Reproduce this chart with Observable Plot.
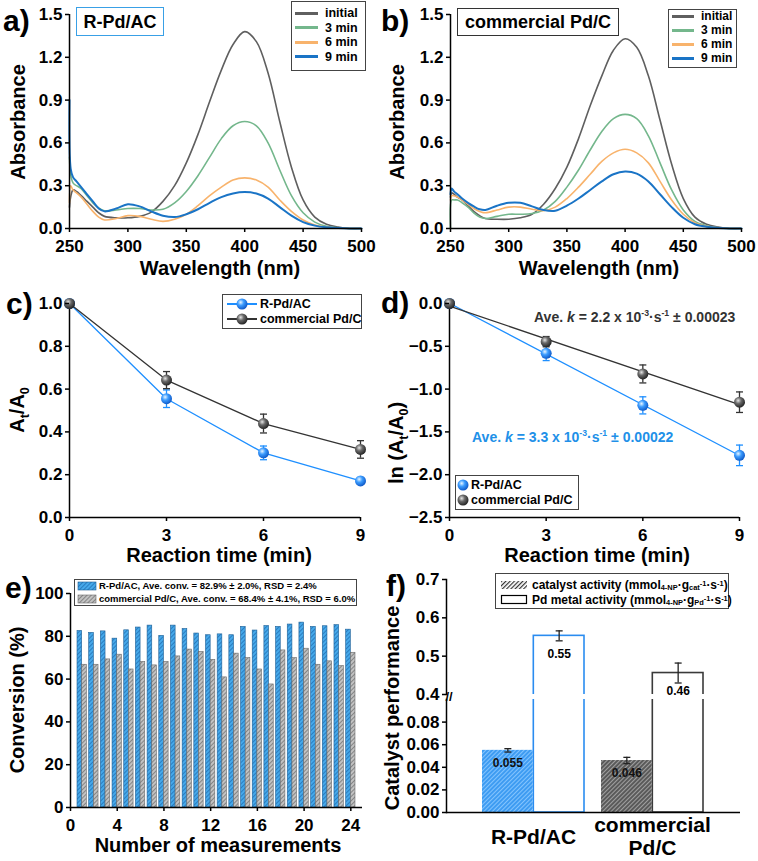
<!DOCTYPE html>
<html><head><meta charset="utf-8">
<script src="https://cdn.jsdelivr.net/npm/d3@7"></script>
<script src="https://cdn.jsdelivr.net/npm/@observablehq/plot@0.6"></script>
<style>
body{margin:0;background:#fff;}
#root{position:relative;width:758px;height:861px;overflow:hidden;font-family:"Liberation Sans",Arial,sans-serif;font-weight:bold;color:#000;background:#fff;}
.t{position:absolute;white-space:nowrap;line-height:1;}
.t sub,.t sup{font-size:0.62em;line-height:0;}
.t.sm sub{vertical-align:-0.15em;}
.t.sm sup{vertical-align:0.4em;}
.box{position:absolute;border:1px solid #333;background:#fff;box-sizing:border-box;}
</style></head><body>
<svg width="0" height="0" style="position:absolute">
<defs>
<pattern id="hbE" patternUnits="userSpaceOnUse" width="3" height="3" patternTransform="rotate(45)"><rect width="3" height="3" fill="#46a9ea"/><line x1="0.5" y1="0" x2="0.5" y2="3" stroke="#2a7cc0" stroke-width="1"/></pattern>
<pattern id="hgE" patternUnits="userSpaceOnUse" width="3" height="3" patternTransform="rotate(45)"><rect width="3" height="3" fill="#c2c2c2"/><line x1="0.5" y1="0" x2="0.5" y2="3" stroke="#858585" stroke-width="1"/></pattern>
<pattern id="hbF" patternUnits="userSpaceOnUse" width="3" height="3" patternTransform="rotate(45)"><rect width="3" height="3" fill="#3e9cf2"/><line x1="0.5" y1="0" x2="0.5" y2="3" stroke="#8cc8ff" stroke-width="0.9"/></pattern>
<pattern id="hgF" patternUnits="userSpaceOnUse" width="3" height="3" patternTransform="rotate(45)"><rect width="3" height="3" fill="#5a5a5a"/><line x1="0.5" y1="0" x2="0.5" y2="3" stroke="#a8a8a8" stroke-width="0.9"/></pattern>
<pattern id="hkF" patternUnits="userSpaceOnUse" width="3" height="3" patternTransform="rotate(45)"><rect width="3" height="3" fill="#fff"/><line x1="0.5" y1="0" x2="0.5" y2="3" stroke="#333" stroke-width="1.4"/></pattern>
<radialGradient id="ballB" cx="0.38" cy="0.35" r="0.7"><stop offset="0" stop-color="#e8f5ff"/><stop offset="0.4" stop-color="#3d9dff"/><stop offset="1" stop-color="#0a52c2"/></radialGradient>
<radialGradient id="ballG" cx="0.38" cy="0.35" r="0.7"><stop offset="0" stop-color="#e6e6e6"/><stop offset="0.4" stop-color="#6a6a6a"/><stop offset="1" stop-color="#1c1c1c"/></radialGradient>
</defs></svg>
<div id="root"></div>
<script>
// ---------- DATA ----------
const wavelengths = [250,251,253,256,260,265,270,275,280,290,300,310,320,330,340,350,360,370,380,390,400,410,420,430,440,450,460,470,480,490,500];
const spectrumNames = ["initial","3 min","6 min","9 min"];
const spectrumColors = ["#5f5f5f","#74b78c","#f8b36c","#1a74c6"];
// panel a: R-Pd/AC
const aInitial = [0.15,0.22,0.27,0.26,0.23,0.19,0.15,0.11,0.085,0.075,0.075,0.085,0.115,0.19,0.30,0.46,0.66,0.89,1.11,1.29,1.38,1.31,1.09,0.75,0.43,0.20,0.08,0.03,0.01,0,0];
const a3min   = [0.50,0.38,0.32,0.30,0.28,0.23,0.18,0.145,0.125,0.13,0.14,0.14,0.13,0.135,0.18,0.26,0.37,0.50,0.63,0.72,0.75,0.72,0.60,0.41,0.23,0.11,0.045,0.015,0.005,0,0];
const a6min   = [0.18,0.30,0.27,0.25,0.22,0.17,0.12,0.08,0.06,0.07,0.09,0.085,0.065,0.05,0.065,0.10,0.16,0.23,0.29,0.34,0.355,0.34,0.29,0.20,0.12,0.06,0.025,0.01,0.003,0,0];
const a9min   = [0.90,0.42,0.36,0.33,0.29,0.24,0.19,0.14,0.12,0.14,0.17,0.155,0.12,0.09,0.08,0.10,0.135,0.18,0.22,0.245,0.255,0.245,0.21,0.15,0.09,0.045,0.02,0.008,0.003,0,0];
// panel b: commercial Pd/C
const bInitial = [0.22,0.25,0.24,0.22,0.20,0.16,0.12,0.09,0.07,0.065,0.065,0.075,0.10,0.17,0.28,0.43,0.63,0.86,1.07,1.25,1.33,1.27,1.07,0.76,0.45,0.21,0.08,0.03,0.01,0,0];
const b3min   = [0.0,0.20,0.20,0.20,0.18,0.15,0.11,0.08,0.07,0.085,0.10,0.10,0.105,0.13,0.19,0.29,0.41,0.55,0.68,0.77,0.80,0.77,0.65,0.46,0.27,0.13,0.05,0.02,0.005,0,0];
const b6min   = [0.20,0.23,0.23,0.22,0.20,0.17,0.14,0.12,0.11,0.13,0.15,0.15,0.135,0.125,0.15,0.21,0.29,0.38,0.47,0.53,0.555,0.53,0.46,0.33,0.20,0.10,0.04,0.015,0.005,0,0];
const b9min   = [0.24,0.28,0.26,0.24,0.21,0.18,0.155,0.135,0.13,0.16,0.18,0.18,0.155,0.13,0.125,0.16,0.21,0.27,0.33,0.38,0.40,0.385,0.33,0.24,0.15,0.075,0.03,0.012,0.004,0,0];
const wlTicks = [250,300,350,400,450,500];
const absTicks = [0,0.3,0.6,0.9,1.2,1.5];

// panels c, d
const times = [0,3,6,9];
const ratioR = [1.0,0.555,0.302,0.171], ratioRerr = [0,0.041,0.032,0.016];
const ratioC = [1.0,0.642,0.439,0.318], ratioCerr = [0,0.040,0.044,0.041];
const lnR = [0,-0.582,-1.19,-1.774], lnRerr = [0,0.085,0.10,0.12];
const lnC = [0,-0.446,-0.823,-1.153], lnCerr = [0,0.06,0.105,0.12];
const ratioTicks = [0,0.2,0.4,0.6,0.8,1.0];
const lnTicks = [-2.5,-2.0,-1.5,-1.0,-0.5,0.0];

// panel e
const measurements = [1,2,3,4,5,6,7,8,9,10,11,12,13,14,15,16,17,18,19,20,21,22,23,24];
const convR = [82.5,81.6,82.3,78.9,82.8,84.1,85.0,80.2,85.0,83.4,81.3,80.5,80.9,80.5,84.4,82.7,84.8,84.4,85.5,86.4,84.4,84.7,85.2,83.1];
const convC = [66.7,66.7,69.2,71.4,64.5,68.0,66.4,68.0,70.6,73.8,72.7,69.0,60.8,71.9,69.8,64.5,57.5,73.4,69.8,74.2,66.7,68.3,66.1,72.3];
const measTicks = [0,4,8,12,16,20,24];
const convTicks = [0,20,40,60,80,100];

// panel f
const catalysts = ["R-Pd/AC","commercial Pd/C"];
const catalystTickLabels = ["R-Pd/AC","commercial\nPd/C"];
const catActivity = [0.055,0.046], catActivityErr = [0.0015,0.0028];
const pdActivity = [0.553,0.456], pdActivityErr = [0.013,0.026];
const catActivityLabels = ["0.055","0.046"];
const pdActivityLabels = ["0.55","0.46"];
const fCatFill = ["url(#hbF)","url(#hgF)"];
const fPdStroke = ["#2a8cf0","#3a3a3a"];
const upperTicks = [0.4,0.5,0.6,0.7];
const lowerTicks = [0,0.02,0.04,0.06,0.08];

// ---------- helpers ----------
const root = document.getElementById("root");
const FONT = '"Liberation Sans", Arial, sans-serif';
const baseStyle = {fontFamily: FONT, fontWeight: "bold", fontSize: "17px", color: "#000", background: "transparent", overflow: "visible"};
function place(el, left, top) { el.style.position = "absolute"; el.style.left = left + "px"; el.style.top = top + "px"; root.append(el); return el; }
function addText(html, x, y, o = {}) {
  const d = document.createElement("div");
  d.className = "t" + (o.cls ? " " + o.cls : ""); d.innerHTML = html;
  d.style.left = x + "px"; d.style.top = y + "px";
  d.style.fontSize = (o.size || 20) + "px";
  if (o.color) d.style.color = o.color;
  const ax = o.anchor === "start" ? "0" : o.anchor === "end" ? "-100%" : "-50%";
  d.style.transform = `translate(${ax},-50%)` + (o.rotate ? ` rotate(${o.rotate}deg)` : "");
  root.append(d); return d;
}
function addBox(x, y, w, h, border) {
  const d = document.createElement("div"); d.className = "box";
  Object.assign(d.style, {left: x + "px", top: y + "px", width: w + "px", height: h + "px"});
  if (border) d.style.borderColor = border;
  root.append(d); return d;
}
function addLineSwatch(x, y, w, color, thick) {
  const d = document.createElement("div");
  Object.assign(d.style, {position: "absolute", left: x + "px", top: (y - thick / 2) + "px", width: w + "px", height: thick + "px", background: color});
  root.append(d);
}
function addSvgSwatch(x, y, inner, w, h) {
  const d = document.createElement("div");
  d.innerHTML = `<svg width="${w}" height="${h}" style="position:absolute;left:${x}px;top:${y}px;overflow:visible">${inner}</svg>`;
  root.append(d.firstChild);
}
const capSymbol = {draw(ctx, size) { const r = Math.sqrt(size / Math.PI); ctx.moveTo(-r, 0); ctx.lineTo(r, 0); }};
const axX = (o) => Plot.axisX({tickSize: 4, tickPadding: 7, fontSize: 17, strokeWidth: 1.5, label: null, ...o});
const axY = (o) => Plot.axisY({tickSize: 4, tickPadding: 3, fontSize: 17, strokeWidth: 1.5, label: null, ...o});

// ---------- panels a & b ----------
function spectraPlot(series) {
  const marks = [];
  series.forEach((vals, i) => {
    const rows = wavelengths.map((w, j) => ({w, v: vals[j]}));
    marks.push(Plot.line(rows, {x: "w", y: "v", stroke: spectrumColors[i], strokeWidth: i === 3 ? 2 : 1.6, curve: "catmull-rom"}));
  });
  return marks;
}
const pa = Plot.plot({
  width: 380, height: 285, marginLeft: 69, marginRight: 19, marginTop: 14, marginBottom: 57,
  style: baseStyle,
  x: {domain: [250, 500]}, y: {domain: [0, 1.5]},
  marks: [
    ...spectraPlot([aInitial, a3min, a6min, a9min]),
    Plot.ruleX([250], {stroke: "#000", strokeWidth: 1.5}),
    Plot.ruleY([0], {stroke: "#000", strokeWidth: 1.5}),
    axX({ticks: wlTicks}), axY({ticks: absTicks, tickFormat: ".1f"})
  ]
});
place(pa, 0, 0);
const pb = Plot.plot({
  width: 378, height: 285, marginLeft: 70, marginRight: 17, marginTop: 14, marginBottom: 57,
  style: baseStyle,
  x: {domain: [250, 500]}, y: {domain: [0, 1.5]},
  marks: [
    ...spectraPlot([bInitial, b3min, b6min, b9min]),
    Plot.ruleX([250], {stroke: "#000", strokeWidth: 1.5}),
    Plot.ruleY([0], {stroke: "#000", strokeWidth: 1.5}),
    axX({ticks: wlTicks}), axY({ticks: absTicks, tickFormat: ".1f"})
  ]
});
place(pb, 380, 0);

// ---------- panels c & d ----------
function kinetics(vals, errs, color, ball, fit) {
  const rows = times.map((t, i) => ({t, v: vals[i], e: errs[i]}));
  const er = rows.filter(d => d.e > 0);
  return [
    fit ? Plot.linearRegressionY(rows, {x: "t", y: "v", stroke: color, strokeWidth: 1.3, ci: 0})
        : Plot.line(rows, {x: "t", y: "v", stroke: color, strokeWidth: 1.3}),
    Plot.ruleX(er, {x: "t", y1: d => d.v - d.e, y2: d => d.v + d.e, stroke: color, strokeWidth: 1.3}),
    Plot.dot(er, {x: "t", y: d => d.v + d.e, symbol: capSymbol, r: 3.5, stroke: color, strokeWidth: 1.3, fill: "none"}),
    Plot.dot(er, {x: "t", y: d => d.v - d.e, symbol: capSymbol, r: 3.5, stroke: color, strokeWidth: 1.3, fill: "none"}),
    Plot.dot(rows, {x: "t", y: "v", r: 5.5, fill: ball, stroke: null})
  ];
}
const pc = Plot.plot({
  width: 380, height: 285, marginLeft: 69, marginRight: 20, marginTop: 18, marginBottom: 53,
  style: baseStyle,
  x: {domain: [0, 9]}, y: {domain: [0, 1]},
  marks: [
    Plot.ruleX([0], {stroke: "#000", strokeWidth: 1.5}),
    Plot.ruleY([0], {stroke: "#000", strokeWidth: 1.5}),
    ...kinetics(ratioR, ratioRerr, "#1e8fff", "url(#ballB)", false),
    ...kinetics(ratioC, ratioCerr, "#333", "url(#ballG)", false),
    axX({ticks: times}), axY({ticks: ratioTicks, tickFormat: ".1f"})
  ]
});
place(pc, 0, 285);
const pd = Plot.plot({
  width: 378, height: 285, marginLeft: 71, marginRight: 17, marginTop: 18, marginBottom: 53,
  style: baseStyle,
  x: {domain: [0, 9]}, y: {domain: [-2.5, 0]},
  marks: [
    Plot.ruleX([0], {stroke: "#000", strokeWidth: 1.5}),
    Plot.ruleY([-2.5], {stroke: "#000", strokeWidth: 1.5}),
    ...kinetics(lnR, lnRerr, "#1e8fff", "url(#ballB)", true),
    ...kinetics(lnC, lnCerr, "#333", "url(#ballG)", true),
    axX({ticks: times}), axY({ticks: lnTicks, tickFormat: ".1f"})
  ]
});
place(pd, 378, 285);

// ---------- panel e ----------
const eRowsR = measurements.map((n, i) => ({n, v: convR[i]}));
const eRowsC = measurements.map((n, i) => ({n, v: convC[i]}));
const pe = Plot.plot({
  width: 380, height: 291, marginLeft: 70, marginRight: 18, marginTop: 23, marginBottom: 54,
  style: baseStyle,
  x: {domain: [0, 25]}, y: {domain: [0, 100]},
  marks: [
    Plot.rectY(eRowsR, {x1: d => d.n - 0.4, x2: d => d.n, y: "v", fill: "url(#hbE)", stroke: "#1d5f96", strokeWidth: 0.6}),
    Plot.rectY(eRowsC, {x1: d => d.n, x2: d => d.n + 0.4, y: "v", fill: "url(#hgE)", stroke: "#6a6a6a", strokeWidth: 0.6}),
    Plot.ruleX([0], {stroke: "#000", strokeWidth: 1.5}),
    Plot.ruleY([0], {stroke: "#000", strokeWidth: 1.5}),
    axX({ticks: measTicks}), axY({ticks: convTicks})
  ]
});
place(pe, 0, 570);

// ---------- panel f ----------
const fRows = catalysts.map((c, i) => ({
  cat: c, tick: catalystTickLabels[i], act: catActivity[i], actErr: catActivityErr[i], pd: pdActivity[i], pdErr: pdActivityErr[i],
  actLabel: catActivityLabels[i], pdLabel: pdActivityLabels[i], fill: fCatFill[i], stroke: fPdStroke[i]
}));
const fWidth = 378, fML = 66, fMR = 18, pIn = 0.142, pOut = 0.3;
const step = (fWidth - fML - fMR) / (catalysts.length - pIn + 2 * pOut);
const half = step * (1 - pIn) / 2;
const xF = {type: "band", domain: catalysts, paddingInner: pIn, paddingOuter: pOut, axis: null};
const errMarks = (y, e, dx, color) => [
  Plot.ruleX(fRows, {x: "cat", y1: d => d[y] - d[e], y2: d => d[y] + d[e], dx, stroke: color, strokeWidth: 1.3}),
  Plot.dot(fRows, {x: "cat", y: d => d[y] + d[e], dx, symbol: capSymbol, r: 3.5, stroke: color, strokeWidth: 1.3, fill: "none"}),
  Plot.dot(fRows, {x: "cat", y: d => d[y] - d[e], dx, symbol: capSymbol, r: 3.5, stroke: color, strokeWidth: 1.3, fill: "none"})
];
const pfU = Plot.plot({
  width: fWidth, height: 134, marginLeft: fML, marginRight: fMR, marginTop: 19, marginBottom: 0,
  style: baseStyle, color: {type: "identity"},
  x: xF, y: {domain: [0.4, 0.7]},
  marks: [
    Plot.barY(fRows, {x: "cat", y1: 0.3, y2: "pd", fill: "white", stroke: "stroke", strokeWidth: 1.6, insetLeft: half, clip: true}),
    ...errMarks("pd", "pdErr", half / 2, "#222"),
    Plot.text(fRows, {x: "cat", y: "pd", text: "pdLabel", dx: half / 2, dy: 18, fontSize: 12}),
    Plot.frame({anchor: "left", stroke: "#000", strokeWidth: 1.5}),
    axY({ticks: upperTicks, tickFormat: ".1f"})
  ]
});
place(pfU, 380, 560);
const pfL = Plot.plot({
  width: fWidth, height: 167, marginLeft: fML, marginRight: fMR, marginTop: 5, marginBottom: 49,
  style: baseStyle, color: {type: "identity"},
  x: xF, y: {domain: [0, 0.1]},
  marks: [
    Plot.barY(fRows, {x: "cat", y1: 0, y2: "pd", fill: "white", stroke: "stroke", strokeWidth: 1.6, insetLeft: half, clip: true}),
    Plot.barY(fRows, {x: "cat", y: "act", fill: "fill", insetRight: half}),
    ...errMarks("act", "actErr", -half / 2, "#222"),
    Plot.text(fRows, {x: "cat", y: "act", text: "actLabel", dx: -half / 2, dy: 13, fontSize: 12, fill: "#111"}),
    Plot.ruleY([0], {stroke: "#000", strokeWidth: 1.5}),
    Plot.frame({anchor: "left", stroke: "#000", strokeWidth: 1.5}),
    axY({ticks: lowerTicks, tickFormat: ".2f"}),
    Plot.text(fRows, {x: "cat", frameAnchor: "bottom", dy: 24, text: "tick", lineAnchor: "middle", fontSize: 21, lineHeight: 1.1})
  ]
});
place(pfL, 380, 694);
// axis break marks
addText("//", 449, 696, {size: 13});

// ---------- text: titles, letters ----------
addText("a)", 3, 21, {size: 30, anchor: "start"});
addText("b)", 381, 21, {size: 30, anchor: "start"});
addText("c)", 6, 304, {size: 30, anchor: "start"});
addText("d)", 381, 303, {size: 30, anchor: "start"});
addText("e)", 5, 588, {size: 30, anchor: "start"});
addText("f)", 386, 586, {size: 30, anchor: "start"});

addText("Wavelength (nm)", 220, 268, {size: 20});
addText("Wavelength (nm)", 599, 268, {size: 20});
addText("Absorbance", 18, 122, {size: 20, rotate: -90});
addText("Absorbance", 397, 122, {size: 20, rotate: -90});
addText("Reaction time (min)", 219, 555, {size: 20});
addText("Reaction time (min)", 597, 555, {size: 20});
addText("A<sub>t</sub>/A<sub>0</sub>", 17, 410, {size: 20, rotate: -90});
addText("ln (A<sub>t</sub>/A<sub>0</sub>)", 396, 443, {size: 20, rotate: -90});
addText("Number of measurements", 218, 845, {size: 20});
addText("Conversion (%)", 17, 700, {size: 20, rotate: -90});
addText("Catalyst performance", 392, 708, {size: 20, rotate: -90});

// sample boxes
addBox(76, 7, 88, 29, "#39a0e6"); addText("R-Pd/AC", 120, 21.5, {size: 18});
addBox(457, 8, 162, 28, "#333"); addText("commercial Pd/C", 538, 22, {size: 18});

// legends a, b
addBox(291, 1, 75, 70, "#444");
spectrumNames.forEach((n, i) => { const y = 13 + 14.5 * i; addLineSwatch(295, y, 23, spectrumColors[i], 3); addText(n, 325, y, {size: 12.5, anchor: "start"}); });
addBox(668, 9, 69, 59, "#444");
spectrumNames.forEach((n, i) => { const y = 16 + 14 * i; addLineSwatch(672, y, 22, spectrumColors[i], 3); addText(n, 701, y, {size: 12, anchor: "start"}); });

// legend c
addBox(222, 294, 140, 35, "#444");
[["R-Pd/AC", "#1e8fff", "url(#ballB)"], ["commercial Pd/C", "#333", "url(#ballG)"]].forEach(([n, c, b], i) => {
  const y = 304 + 15 * i;
  addLineSwatch(227, y, 30, c, 1.4);
  addSvgSwatch(242 - 6, y - 6, `<circle cx="6" cy="6" r="5.5" fill="${b}"/>`, 12, 12);
  addText(n, 260, y, {size: 12.5, anchor: "start"});
});
// legend d
addBox(455, 475, 124, 35, "#444");
[["R-Pd/AC", "url(#ballB)"], ["commercial Pd/C", "url(#ballG)"]].forEach(([n, b], i) => {
  const y = 485 + 15 * i;
  addSvgSwatch(463 - 6, y - 6, `<circle cx="6" cy="6" r="5.5" fill="${b}"/>`, 12, 12);
  addText(n, 471, y, {size: 12.5, anchor: "start"});
});
addText("Ave. <i>k</i> = 2.2 x 10<sup>-3</sup>·s<sup>-1</sup> ± 0.00023", 534, 317, {size: 14, anchor: "start", color: "#333"});
addText("Ave. <i>k</i> = 3.3 x 10<sup>-3</sup>·s<sup>-1</sup> ± 0.00022", 472, 437, {size: 14, anchor: "start", color: "#2190e8"});

// legend e
addBox(74, 579, 283, 27, "#444");
[["R-Pd/AC, Ave. conv. = 82.9% ± 2.0%, RSD = 2.4%", "url(#hbE)", "#1d5f96"], ["commercial Pd/C, Ave. conv. = 68.4% ± 4.1%, RSD = 6.0%", "url(#hgE)", "#6a6a6a"]].forEach(([n, f, s], i) => {
  const y = 586 + 13 * i;
  addSvgSwatch(78, y - 4, `<rect x="0" y="0" width="18" height="8" fill="${f}" stroke="${s}" stroke-width="0.6"/>`, 18, 8);
  addText(n, 99, y, {size: 9.5, anchor: "start"});
});
// legend f
addBox(495, 573, 234, 36, "#444");
addSvgSwatch(501, 581, `<rect x="0" y="0" width="26" height="8" fill="url(#hkF)"/>`, 26, 8);
addText("catalyst activity (mmol<sub>4-NP</sub>·g<sub>cat</sub><sup>-1</sup>·s<sup>-1</sup>)", 532, 584.5, {size: 12, anchor: "start", cls: "sm"});
addSvgSwatch(501, 595, `<rect x="0.5" y="0.5" width="25" height="8" fill="#fff" stroke="#000" stroke-width="1.2"/>`, 26, 9);
addText("Pd metal activity (mmol<sub>4-NP</sub>·g<sub>Pd</sub><sup>-1</sup>·s<sup>-1</sup>)", 532, 600, {size: 12, anchor: "start", cls: "sm"});
</script></body></html>
